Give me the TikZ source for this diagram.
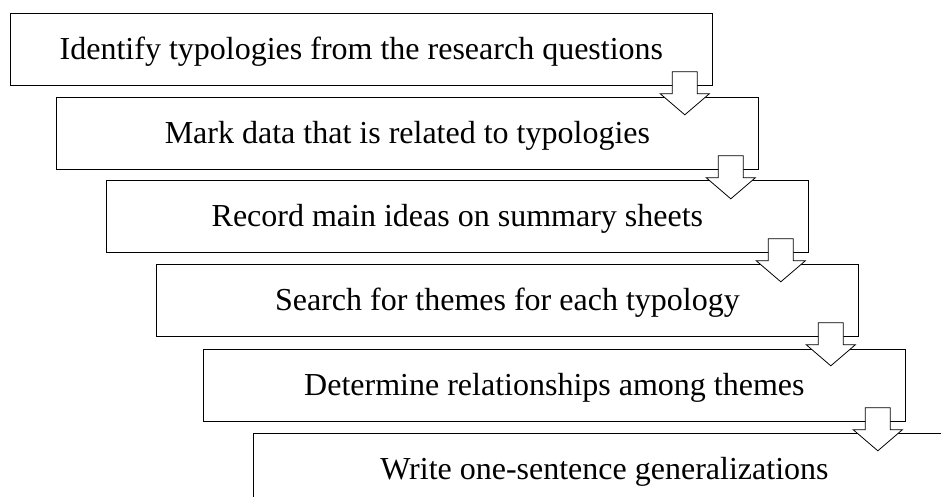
\documentclass[tikz,border=0pt]{standalone}
\usepackage{fontspec}
\setmainfont{Liberation Serif}
\newcommand*{\DArrow}[1]{\draw[fill=white,shift={(#1.south east)}] (-40.5,-14) -- (-15.5,-14)
  -- (-15.5,8) -- (-3.5,8) -- (-28,29) -- (-52.5,8) -- (-40.5,8) -- cycle;}
\usetikzlibrary{positioning}
\tikzset{task/.style={draw,anchor=north west,minimum width=702pt,minimum height=72pt,
  inner sep=0pt,text height=25pt,text depth=5pt,font=\fontsize{32}{38}\selectfont}}

\begin{document}
\begin{tikzpicture}[x=1pt,y=-1pt,line width=0.8pt]
    \useasboundingbox (0,0) rectangle (941,497);
    \clip (0,0) rectangle (941,497);
    \node[task] (t1) at (10,13) {Identify typologies from the research questions};
    \node[task] (t2) at (56,97) {Mark data that is related to typologies};
    \node[task] (t3) at (106,180) {Record main ideas on summary sheets};
    \node[task] (t4) at (156,264) {Search for themes for each typology};
    \node[task] (t5) at (203,349) {Determine relationships among themes};
    \node[task] (t6) at (253,433) {Write one-sentence generalizations};
    \DArrow{t1} \DArrow{t2} \DArrow{t3} \DArrow{t4} \DArrow{t5}
  \end{tikzpicture}
\end{document}
